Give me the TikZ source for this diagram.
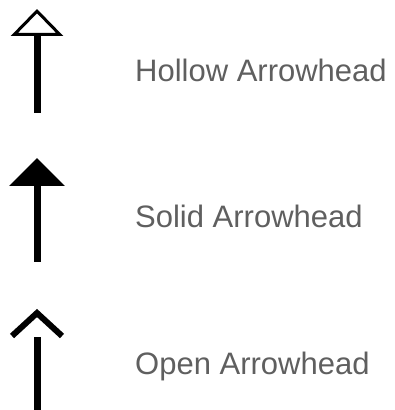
\documentclass[tikz,border=0pt]{standalone}
\usepackage{fontspec}
\setmainfont{Liberation Sans}
\usetikzlibrary{arrows.meta}
\definecolor{labelgray}{RGB}{95,95,95}
\tikzset{
  shaft/.style={line width=7pt},
  hollowtip/.style={-{Triangle[open,width=52pt,length=27pt,line width=3pt 0]}},
  solidtip/.style={-{Triangle[width=54pt,length=28pt]}},
  chevron/.style={line width=6pt,miter limit=4},
  legendlabel/.style={anchor=base west,inner sep=0pt,text=labelgray,
    font=\fontsize{31}{37}\selectfont}
}
\begin{document}
\begin{tikzpicture}[x=1pt,y=1pt]
  \useasboundingbox (0,0) rectangle (395,410);
  % hollow arrowhead
  \coordinate (hollow0) at (37,297);
  \coordinate (hollow1) at (37,401);
  \draw[shaft,hollowtip] (hollow0) -- (hollow1);
  \node[legendlabel] (hollowtext) at (135,328) {Hollow Arrowhead};
  % solid arrowhead
  \coordinate (solid0) at (37,148);
  \coordinate (solid1) at (37,252);
  \draw[shaft,solidtip] (solid0) -- (solid1);
  \node[legendlabel] (solidtext) at (135,182) {Solid Arrowhead};
  % open arrowhead
  \coordinate (open0) at (37,-5);
  \coordinate (open1) at (37,73);
  \coordinate (opentip) at (37,97);
  \draw[shaft] (open0) -- (open1);
  \draw[chevron] (opentip) +(-25,-23) -- (opentip) -- +(25,-23);
  \node[legendlabel] (opentext) at (135,35) {Open Arrowhead};
\end{tikzpicture}
\end{document}
